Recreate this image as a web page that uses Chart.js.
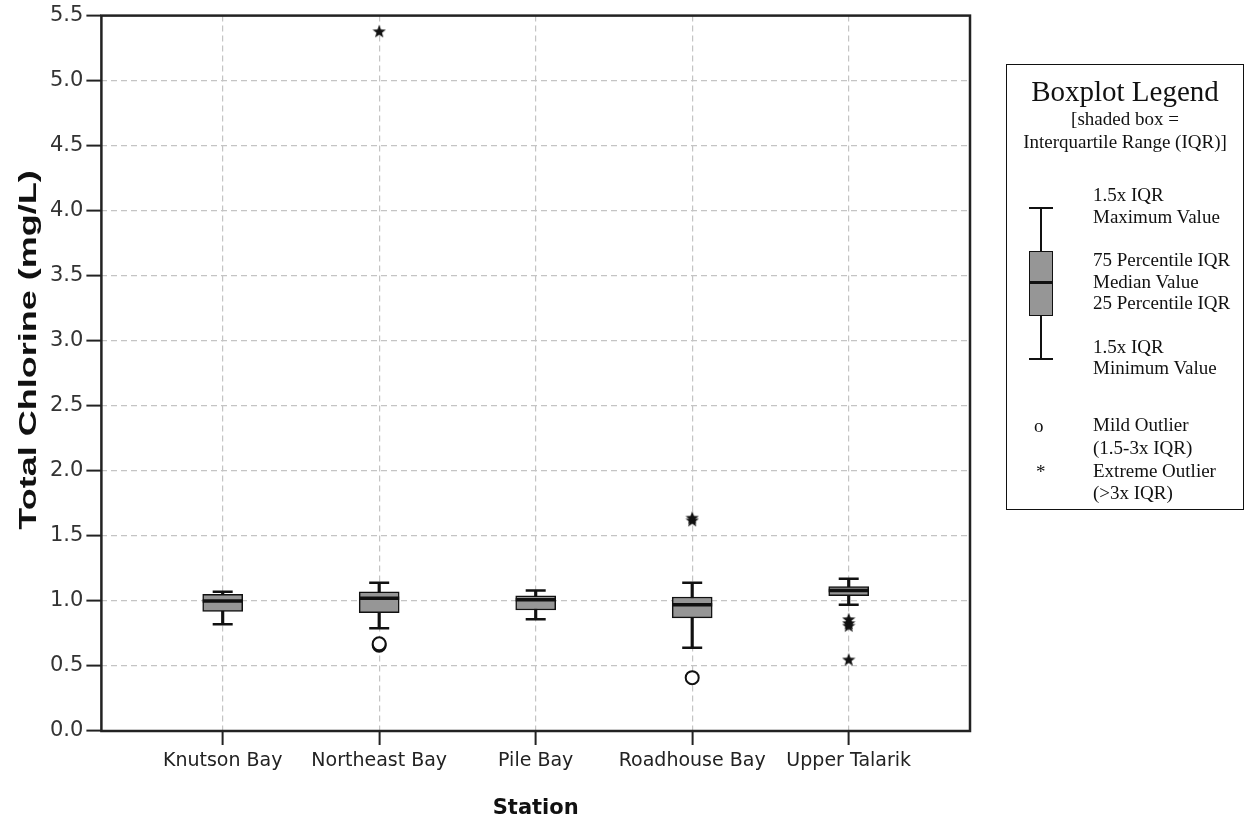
<!DOCTYPE html>
<html>
<head>
<meta charset="utf-8">
<script src="https://cdn.jsdelivr.net/npm/chart.js@4/dist/chart.umd.min.js"></script>
<style>
  body { margin: 0; background: #fff; }
  #wrap { position: relative; width: 1254px; height: 823px; }
  #legend {
    position: absolute; left: 1006px; top: 64px; width: 238px; height: 446px;
    border: 1.5px solid #111; box-sizing: border-box;
    font-family: 'Liberation Serif', 'Times New Roman', serif; color: #111;
  }
  #legend span { position: absolute; font-size: 19px; line-height: 19px; white-space: nowrap; }
  #legend .c { left: 0; width: 100%; text-align: center; }
  #legend .g { position: absolute; background: #111; }
</style>
</head>
<body>
<div id="wrap">
  <canvas id="chart"></canvas>
  <div id="legend"></div>
</div>
<script>
const stations = ['Knutson Bay', 'Northeast Bay', 'Pile Bay', 'Roadhouse Bay', 'Upper Talarik'];
const whiskerLow = [0.82, 0.79, 0.86, 0.64, 0.97];
const q1 = [0.92, 0.91, 0.93, 0.87, 1.04];
const median = [1.00, 1.02, 1.01, 0.97, 1.08];
const q3 = [1.05, 1.07, 1.04, 1.03, 1.11];
const whiskerHigh = [1.07, 1.14, 1.08, 1.14, 1.17];
const mildOutliers = [[], [0.66, 0.67], [], [0.41], []];
const extremeOutliers = [[], [5.38], [], [1.62, 1.64], [0.86, 0.83, 0.81, 0.55]];
const yMin = 0, yMax = 5.5, yStep = 0.5;
const yTitle = 'Total Chlorine (mg/L)';

// filled five point star used for the extreme outliers
function starImage(size) {
    const c = document.createElement('canvas');
    c.width = c.height = size;
    const g = c.getContext('2d');
    g.beginPath();
    for (let k = 0; k < 10; k++) {
        const r = k % 2 ? size * 0.21 : size * 0.5;
        const a = -Math.PI / 2 + k * Math.PI / 5;
        g.lineTo(size / 2 + r * Math.cos(a), size / 2 + 0.6 + r * Math.sin(a));
    }
    g.closePath();
    g.fillStyle = '#111';
    g.fill();
    return c;
}

const idx = stations.map((_, i) => i);
const flat = (lists) => lists.flatMap((vals, i) => vals.map(v => ({x: i, y: v})));

// plot frame + the wide bold y title (SPSS style)
const framePlugin = {
    id: 'frame',
    beforeDatasetsDraw(chart) {
        const {ctx, chartArea: a} = chart;
        ctx.save();
        ctx.lineWidth = 2.5;
        ctx.strokeStyle = '#222';
        ctx.strokeRect(a.left, a.top, a.right - a.left, a.bottom - a.top);
        ctx.restore();
    },
    afterDraw(chart) {
        const ctx = chart.ctx;
        ctx.save();
        ctx.translate(29, 350);
        ctx.rotate(-Math.PI / 2);
        ctx.scale(1.5, 1);
        ctx.font = 'bold 24px "Liberation Sans", Arial, sans-serif';
        ctx.fillStyle = '#111';
        ctx.textAlign = 'center';
        ctx.textBaseline = 'middle';
        ctx.fillText(yTitle, 0, 0);
        ctx.restore();
    }
};

new Chart(document.getElementById('chart'), {
    type: 'bar',
    data: {
        datasets: [
            {
                type: 'bar',
                data: idx.map(i => ({x: i, y: [whiskerLow[i], whiskerHigh[i]]})),
                backgroundColor: '#111',
                barThickness: 2.5,
                grouped: false,
                order: 3
            },
            {
                type: 'bar',
                data: idx.map(i => ({x: i, y: [q1[i], q3[i]]})),
                backgroundColor: '#969696',
                borderColor: '#111',
                borderWidth: 1.5,
                borderSkipped: false,
                barThickness: 40,
                grouped: false,
                order: 2
            },
            {
                type: 'scatter',
                data: idx.map(i => ({x: i, y: median[i]})),
                pointStyle: 'line',
                pointRadius: 20,
                borderWidth: 3.5,
                borderColor: '#111',
                order: 1
            },
            {
                type: 'scatter',
                data: idx.flatMap(i => [{x: i, y: whiskerLow[i]}, {x: i, y: whiskerHigh[i]}]),
                pointStyle: 'line',
                pointRadius: 10,
                borderWidth: 2.5,
                borderColor: '#111',
                order: 1
            },
            {
                type: 'scatter',
                data: flat(mildOutliers),
                pointStyle: 'circle',
                pointRadius: 6.5,
                borderWidth: 2,
                borderColor: '#111',
                backgroundColor: '#fff',
                order: 0
            },
            {
                type: 'scatter',
                data: flat(extremeOutliers),
                pointStyle: starImage(14),
                order: 0
            }
        ]
    },
    options: {
        responsive: true,
        maintainAspectRatio: false,
        animation: false,
        events: [],
        layout: { autoPadding: false, padding: { left: 47, right: 284, top: 14, bottom: 0 } },
        plugins: { legend: { display: false }, tooltip: { enabled: false } },
        scales: {
            x: {
                type: 'linear',
                min: -0.775,
                max: 4.775,
                offset: false,
                afterBuildTicks: (scale) => { scale.ticks = idx.map(i => ({value: i})); },
                ticks: {
                    autoSkip: false,
                    maxRotation: 0,
                    padding: 5,
                    color: '#222',
                    font: { family: 'DejaVu Sans', size: 19 },
                    callback: (v) => stations[v]
                },
                grid: {
                    offset: false,
                    color: '#c4c4c4',
                    lineWidth: 1.2,
                    tickColor: '#222',
                    tickWidth: 2,
                    tickLength: 14
                },
                border: { display: false, dash: [6, 4] },
                title: {
                    display: true,
                    text: 'Station',
                    color: '#111',
                    font: { family: 'DejaVu Sans', size: 21, weight: 'bold' },
                    padding: { top: 18, bottom: 2 }
                }
            },
            y: {
                min: yMin,
                max: yMax,
                ticks: {
                    stepSize: yStep,
                    padding: 3,
                    color: '#333',
                    font: { family: 'DejaVu Sans', size: 21 },
                    callback: (v) => v.toFixed(1)
                },
                grid: {
                    color: '#c4c4c4',
                    lineWidth: 1.2,
                    tickColor: '#222',
                    tickWidth: 2,
                    tickLength: 15
                },
                border: { display: false, dash: [6, 4] },
                title: { display: false }
            }
        }
    },
    plugins: [framePlugin]
});

// boxplot key, drawn as plain page elements
const legend = document.getElementById('legend');
const ox = 1006, oy = 64;
const legendLines = [
    {text: 'Boxplot Legend', top: 75.5, size: 29, center: true},
    {text: '[shaded box =', top: 108, center: true},
    {text: 'Interquartile Range (IQR)]', top: 130.5, center: true},
    {text: '1.5x IQR', x: 1092, top: 184},
    {text: 'Maximum Value', x: 1092, top: 205.5},
    {text: '75 Percentile IQR', x: 1092, top: 249},
    {text: 'Median Value', x: 1092, top: 270.5},
    {text: '25 Percentile IQR', x: 1092, top: 292},
    {text: '1.5x IQR', x: 1092, top: 335.5},
    {text: 'Minimum Value', x: 1092, top: 357},
    {text: 'o', x: 1033, top: 415},
    {text: 'Mild Outlier', x: 1092, top: 414},
    {text: '(1.5-3x IQR)', x: 1092, top: 437},
    {text: '*', x: 1035, top: 461},
    {text: 'Extreme Outlier', x: 1092, top: 460},
    {text: '(>3x IQR)', x: 1092, top: 482}
];
legendLines.forEach(l => {
    const s = document.createElement('span');
    s.textContent = l.text;
    if (l.center) s.className = 'c'; else s.style.left = (l.x - ox) + 'px';
    s.style.top = (l.top - oy) + 'px';
    if (l.size) { s.style.fontSize = l.size + 'px'; s.style.lineHeight = l.size + 'px'; }
    legend.appendChild(s);
});
const glyph = [
    {l: 1028, t: 205.5, w: 24, h: 2},
    {l: 1039, t: 206, w: 2, h: 44},
    {l: 1028, t: 250, w: 23.5, h: 65, box: true},
    {l: 1028, t: 280, w: 23.5, h: 3},
    {l: 1039, t: 315, w: 2, h: 43},
    {l: 1028, t: 357, w: 24, h: 2}
];
glyph.forEach(p => {
    const d = document.createElement('div');
    d.className = 'g';
    d.style.left = (p.l - ox) + 'px';
    d.style.top = (p.t - oy) + 'px';
    d.style.width = p.w + 'px';
    d.style.height = p.h + 'px';
    if (p.box) {
        d.style.background = '#969696';
        d.style.border = '1.5px solid #111';
        d.style.boxSizing = 'border-box';
    }
    legend.appendChild(d);
});
</script>
</body>
</html>
